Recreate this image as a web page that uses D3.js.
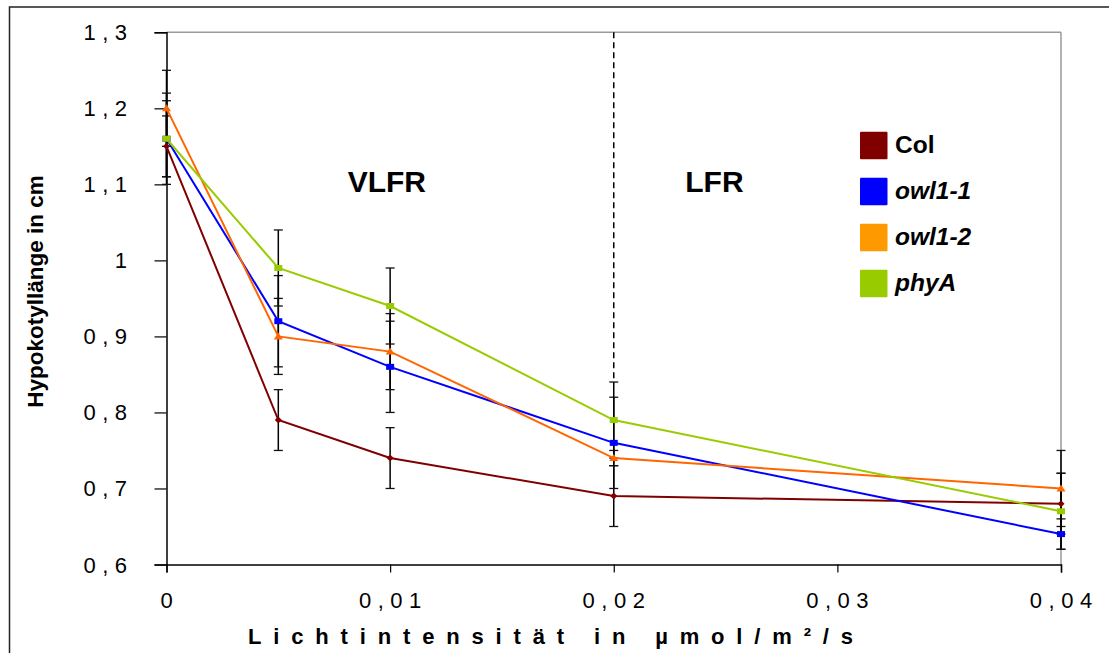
<!DOCTYPE html>
<html><head><meta charset="utf-8">
<script src="https://cdn.jsdelivr.net/npm/d3@7"></script>
<style>
html,body{margin:0;padding:0;background:#fff;}
svg{display:block;font-family:"Liberation Sans",Arial,sans-serif;}
</style></head>
<body>
<svg id="chart" width="1109" height="653"></svg>
<script>
// ---- data ----
const xValues = [0, 0.005, 0.01, 0.02, 0.04];
const seriesNames = ["Col", "owl1-1", "owl1-2", "phyA"];
const colValues   = [1.15, 0.79, 0.74, 0.69, 0.68];
const owl11Values = [1.16, 0.92, 0.86, 0.76, 0.64];
const owl12Values = [1.20, 0.90, 0.88, 0.74, 0.70];
const phyAValues  = [1.16, 0.99, 0.94, 0.79, 0.67];
const colErrors   = [0.04, 0.04, 0.04, 0.04, 0.04];
const owl11Errors = [0.05, 0.06, 0.06, 0.06, 0.02];
const owl12Errors = [0.05, 0.05, 0.05, 0.01, 0.05];
const phyAErrors  = [0.06, 0.05, 0.05, 0.05, 0.05];
const xTicks = [0, 0.01, 0.02, 0.03, 0.04];
const xTickLabels = ["0", "0,01", "0,02", "0,03", "0,04"];
const yTicks = [0.6, 0.7, 0.8, 0.9, 1.0, 1.1, 1.2, 1.3];
const yTickLabels = ["0,6", "0,7", "0,8", "0,9", "1", "1,1", "1,2", "1,3"];
const regionLabels = ["VLFR", "LFR"];
const regionX = [0.0081, 0.0232];
const dividerX = 0.02;
const dividerTop = 1.3, dividerBottom = 0.84;
const xTitle = "Lichtintensität in µmol/m²/s";
const yTitle = "Hypokotyllänge in cm";

// ---- styles ----
const lineColors = ["#800000", "#0000FF", "#FF6600", "#99CC00"];
const legendColors = ["#800000", "#0000FF", "#FF9900", "#99CC00"];
const markerShapes = ["diamond", "square", "triangle", "square"];
const legendItalic = [false, true, true, true];

const series = seriesNames.map((n, i) => ({
  name: n,
  values: [colValues, owl11Values, owl12Values, phyAValues][i],
  errors: [colErrors, owl11Errors, owl12Errors, phyAErrors][i],
  color: lineColors[i], legendColor: legendColors[i], shape: markerShapes[i]
}));

const svg = d3.select("#chart");
const x = d3.scaleLinear().domain([0, 0.04]).range([166.5, 1061]);
const y = d3.scaleLinear().domain([0.6, 1.3]).range([564.5, 32.3]);

// outer frame
svg.append("rect").attr("x", 9.5).attr("y", 7).attr("width", 1200).attr("height", 700)
  .attr("fill", "none").attr("stroke", "#222").attr("stroke-width", 1.5);

// plot border top/right (gray)
svg.append("line").attr("x1", x(0)).attr("x2", x(0.04)).attr("y1", y(1.3)).attr("y2", y(1.3))
  .attr("stroke", "#9a9a9a").attr("stroke-width", 1.5);
svg.append("line").attr("x1", x(0.04)).attr("x2", x(0.04)).attr("y1", y(1.3)).attr("y2", y(0.6))
  .attr("stroke", "#9a9a9a").attr("stroke-width", 1.5);

// axes
const yAxis = d3.axisLeft(y).tickValues(yTicks).tickSize(12).tickFormat("");
const xAxis = d3.axisBottom(x).tickValues(xTicks).tickSize(8).tickFormat("");
const gy = svg.append("g").attr("transform", `translate(${x(0)},0)`).call(yAxis);
const gx = svg.append("g").attr("transform", `translate(0,${y(0.6)})`).call(xAxis);
[gy, gx].forEach(g => {
  g.select(".domain").attr("stroke", "#000").attr("stroke-width", 1.5);
  g.selectAll(".tick line").attr("stroke", "#000").attr("stroke-width", 1.2);
});

// tick labels
const ls = 6.5;
svg.append("g").selectAll("text").data(yTicks).join("text")
  .attr("x", 127 + ls).attr("y", d => y(d) + 8)
  .attr("text-anchor", "end").attr("font-size", 22).attr("letter-spacing", ls)
  .attr("fill", "#000")
  .text((d, i) => yTickLabels[i]);
svg.append("g").selectAll("text").data(xTicks).join("text")
  .attr("x", d => x(d) + ls / 2).attr("y", 607.5)
  .attr("text-anchor", "middle").attr("font-size", 22).attr("letter-spacing", ls)
  .attr("fill", "#000")
  .text((d, i) => xTickLabels[i]);

// titles
svg.append("text").attr("x", 248).attr("y", 644)
  .attr("font-size", 22).attr("font-weight", "bold")
  .attr("textLength", 605).attr("lengthAdjust", "spacing")
  .text(xTitle);
svg.append("text").attr("transform", "translate(43,291.5) rotate(-90)")
  .attr("text-anchor", "middle").attr("font-size", 22.5).attr("font-weight", "bold")
  .text(yTitle);

// divider
svg.append("line").attr("x1", x(dividerX)).attr("x2", x(dividerX))
  .attr("y1", y(dividerTop)).attr("y2", y(dividerBottom))
  .attr("stroke", "#000").attr("stroke-width", 1.5).attr("stroke-dasharray", "6,4");

// region labels
svg.append("g").selectAll("text").data(regionLabels).join("text")
  .attr("x", (d, i) => x(regionX[i])).attr("y", 191.5)
  .attr("font-size", 30).attr("font-weight", "bold").attr("text-anchor", "start")
  .text(d => d);

// error bars
const eb = svg.append("g");
series.forEach(s => {
  s.values.forEach((v, i) => {
    const cx = x(xValues[i]);
    const e = s.errors[i];
    eb.append("line").attr("x1", cx).attr("x2", cx).attr("y1", y(v + e)).attr("y2", y(v - e))
      .attr("stroke", "#000").attr("stroke-width", 1.5);
    [v + e, v - e].forEach(t => {
      eb.append("line").attr("x1", cx - 4.5).attr("x2", cx + 4.5).attr("y1", y(t)).attr("y2", y(t))
        .attr("stroke", "#111").attr("stroke-width", 1.3);
    });
  });
});

// lines
const lineGen = d3.line().x((d, i) => x(xValues[i])).y(d => y(d));
series.forEach(s => {
  svg.append("path").datum(s.values).attr("d", lineGen)
    .attr("fill", "none").attr("stroke", s.color).attr("stroke-width", 2);
});

// markers
series.forEach(s => {
  const g = svg.append("g").attr("fill", s.color);
  s.values.forEach((v, i) => {
    const cx = x(xValues[i]), cy = y(v);
    if (s.shape === "square") {
      g.append("rect").attr("x", cx - 4).attr("y", cy - 3).attr("width", 8).attr("height", 6);
    } else if (s.shape === "diamond") {
      g.append("path").attr("d", `M${cx},${cy - 3.5}L${cx + 3.5},${cy}L${cx},${cy + 3.5}L${cx - 3.5},${cy}Z`);
    } else {
      g.append("path").attr("d", `M${cx},${cy - 4}L${cx + 4.5},${cy + 3}L${cx - 4.5},${cy + 3}Z`);
    }
  });
});

// legend
const lg = svg.append("g");
series.forEach((s, i) => {
  const top = 131.7 + i * 46;
  lg.append("rect").attr("x", 860).attr("y", top).attr("width", 27.5).attr("height", 27.5)
    .attr("fill", s.legendColor).attr("rx", 1);
  lg.append("text").attr("x", 895).attr("y", top + 21.5)
    .attr("font-size", 24.5).attr("font-weight", "bold")
    .attr("font-style", legendItalic[i] ? "italic" : "normal")
    .text(s.name);
});
</script>
</body></html>
